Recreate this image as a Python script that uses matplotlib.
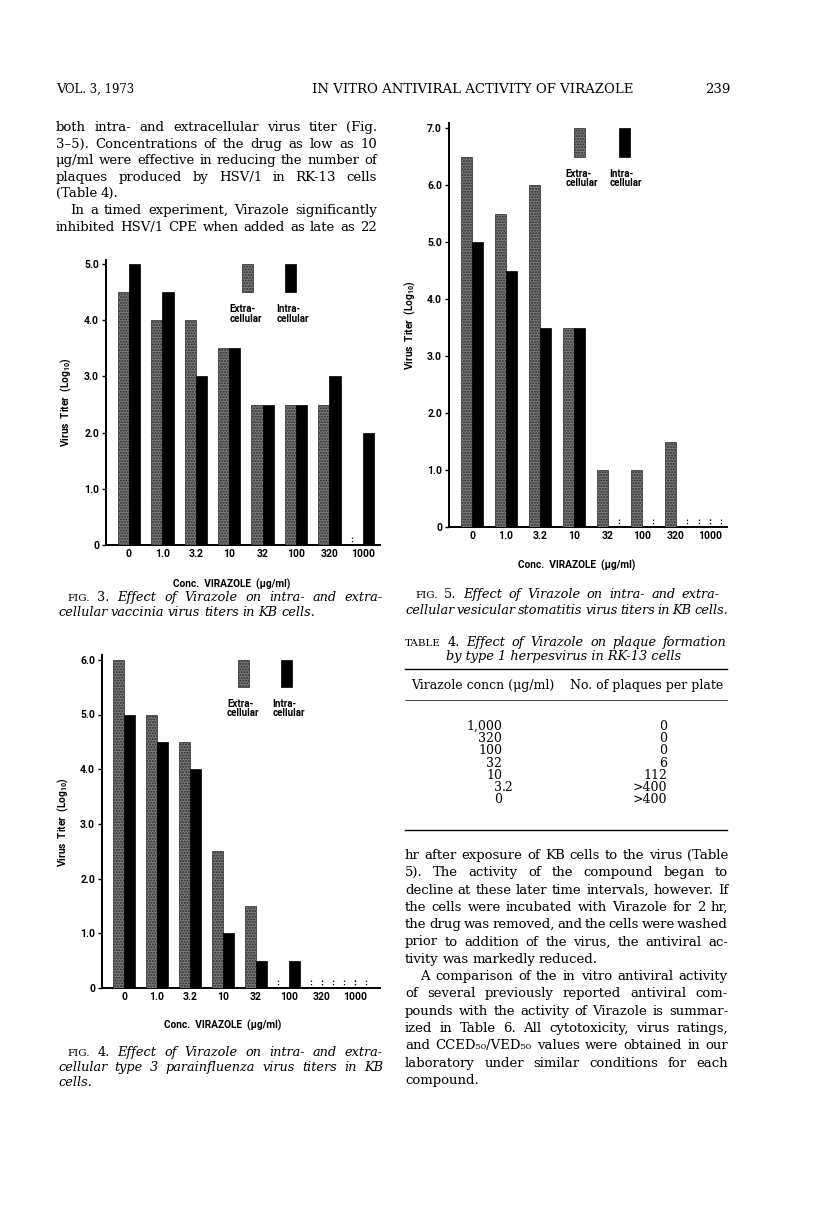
import matplotlib
matplotlib.use("Agg")
import numpy as np
import matplotlib.pyplot as plt
from matplotlib.patches import Rectangle
from matplotlib.lines import Line2D

W, H = 816, 1226

# concentrations of Virazole (ug/ml) on the x axis of every figure
conc_labels = ["0", "1.0", "3.2", "10", "32", "100", "320", "1000"]

# Fig. 3 vaccinia virus titers (log10)
vacc_extra = [4.5, 4.0, 4.0, 3.5, 2.5, 2.5, 2.5, 0.0]
vacc_intra = [5.0, 4.5, 3.0, 3.5, 2.5, 2.5, 3.0, 2.0]

# Fig. 4 type 3 parainfluenza virus titers (log10)
para_extra = [6.0, 5.0, 4.5, 2.5, 1.5, 0.0, 0.0, 0.0]
para_intra = [5.0, 4.5, 4.0, 1.0, 0.5, 0.5, 0.0, 0.0]

# Fig. 5 vesicular stomatitis virus titers (log10)
vsv_extra = [6.5, 5.5, 6.0, 3.5, 1.0, 1.0, 1.5, 0.0]
vsv_intra = [5.0, 4.5, 3.5, 3.5, 0.0, 0.0, 0.0, 0.0]

# Table 4
table_conc = ["1,000", "320", "100", "32", "10", "3.2", "0"]
table_plaques = ["0", "0", "0", "6", "112", ">400", ">400"]

left_text = [
    "both intra- and extracellular virus titer (Fig.",
    "3\u20135). Concentrations of the drug as low as 10",
    "\u03bcg/ml were effective in reducing the number of",
    "plaques produced by HSV/1 in RK-13 cells",
    "(Table  4).",
    "In a timed experiment, Virazole significantly",
    "inhibited HSV/1 CPE when added as late as 22",
]
right_text = [
    "hr after exposure of KB cells to the virus (Table",
    "5). The activity of the compound began to",
    "decline at these later time intervals, however. If",
    "the cells were incubated with Virazole for 2 hr,",
    "the drug was removed, and the cells were washed",
    "prior to addition of the virus, the antiviral ac-",
    "tivity was markedly reduced.",
    "A comparison of the in vitro antiviral activity",
    "of several previously reported antiviral com-",
    "pounds with the activity of Virazole is summar-",
    "ized in Table 6. All cytotoxicity, virus ratings,",
    "and CCED\u2085\u2080/VED\u2085\u2080 values were obtained in our",
    "laboratory under similar conditions for each",
    "compound.",
]

SERIF = ["DejaVu Serif", "DejaVu Sans"]
SANS = ["Roboto", "DejaVu Sans"]

plt.rcParams["mathtext.fontset"] = "custom"
plt.rcParams["mathtext.rm"] = "Roboto:bold"
plt.rcParams["mathtext.default"] = "rm"

fig = plt.figure(figsize=(W / 100, H / 100), dpi=100)
renderer = fig.canvas.get_renderer()


def make_words(line, y, size, italic_from, small):
    arts = []
    for i, wd in enumerate(line.split()):
        style = "italic" if italic_from is not None and i >= italic_from else "normal"
        fs = size * 0.8 if i in small else size
        arts.append(fig.text(0, 1 - y / H, wd, fontsize=fs, family=SERIF,
                             style=style, va="baseline", ha="left"))
    return arts


def fit_size(items, size, min_gap=2.2):
    # largest common size for which every justified line keeps word gaps
    while size > 6:
        ok = True
        for line, x0, x1, ital, small in items:
            if x1 is None:
                continue
            arts = make_words(line, 0, size, ital, small)
            tot = sum(a.get_window_extent(renderer).width for a in arts)
            for a in arts:
                a.remove()
            if (x1 - x0 - tot) / (len(arts) - 1) < min_gap:
                ok = False
                break
        if ok:
            return size
        size -= 0.1
    return size


def put_line(line, x0, y, x1, size, italic_from=None, small=()):
    arts = make_words(line, y, size, italic_from, small)
    widths = [a.get_window_extent(renderer).width for a in arts]
    gap = size * 100 / 72 * 0.28
    if x1 is not None and len(arts) > 1:
        gap = (x1 - x0 - sum(widths)) / (len(arts) - 1)
    x = x0
    for a, w in zip(arts, widths):
        a.set_x(x / W)
        x += w + gap


def chart(left, right, y0, ppu, ymax, ylim_top, x_first, spacing,
          extra, intra, leg_y, leg_box, leg_txt, ylab_x, xlab):
    x = np.arange(len(conc_labels))
    ax = fig.add_axes([left / W, (H - y0) / H, (right - left) / W,
                       ylim_top * ppu / H])
    ax.set_xlim((left - x_first) / spacing, (right - x_first) / spacing)
    ax.set_ylim(0, ylim_top)
    w = 0.335
    gray = "#7a7a7a"
    ax.bar(x - w / 2, extra, w, color=gray, hatch="......",
           edgecolor="#2a2a2a", linewidth=0.5, zorder=3)
    ax.bar(x + w / 2, intra, w, color="black", edgecolor="black",
           linewidth=0.5, zorder=3)
    # dotted stubs where a bar is zero
    for i in x:
        for j, vals in enumerate((extra, intra)):
            if vals[i] > 0:
                continue
            lo = i - w if j == 0 else i
            edges = [lo, lo + w]
            other = intra[i] if j == 0 else extra[i]
            if other > 0:
                edges = [lo] if j == 0 else [lo + w]
            ax.vlines(edges, 0, 0.15, colors="black", linestyles=":",
                      linewidth=0.9, zorder=1)
    # legend keys
    for bx, col, htch, label, tx in zip(leg_box, [gray, "black"],
                                        ["......", None],
                                        ["Extra-\ncellular", "Intra-\ncellular"],
                                        leg_txt):
        ax.add_patch(Rectangle((bx, leg_y - 0.5), w, 0.5, facecolor=col,
                               hatch=htch, edgecolor="#2a2a2a" if htch else "black",
                               linewidth=0.5, zorder=3))
        ax.text(tx, leg_y - 0.72, label, ha="left", va="top", fontsize=7.0,
                family=SANS, weight="bold", linespacing=0.9)
    ax.set_xticks(x)
    ax.set_xticklabels(conc_labels)
    ax.set_yticks(np.arange(0, ymax + 1))
    ax.set_yticklabels(["0"] + ["%.1f" % v for v in np.arange(1, ymax + 1)])
    ax.tick_params(axis="x", length=0, pad=3.0)
    ax.tick_params(axis="y", length=3, width=1.0, direction="out", pad=2.0)
    for lab in ax.get_xticklabels() + ax.get_yticklabels():
        lab.set_fontfamily(SANS)
        lab.set_fontweight("bold")
        lab.set_fontsize(7.5)
    for s in ("top", "right"):
        ax.spines[s].set_visible(False)
    ax.spines["left"].set_linewidth(1.4)
    ax.spines["bottom"].set_linewidth(1.4)
    ax.set_facecolor("none")
    ycen = y0 - ylim_top * ppu / 2
    fig.text(ylab_x / W, 1 - ycen / H,
             "Virus  Titer  (Log$_{10}$)", rotation=90, ha="center",
             va="center", fontsize=7.3, family=SANS, weight="bold")
    fig.text(xlab[0] / W, 1 - xlab[1] / H, "Conc.  VIRAZOLE  (\u03bcg/ml)",
             ha="center", va="center", fontsize=7.3, family=SANS,
             weight="bold")
    return ax


# Fig. 3
chart(106, 380, 545, 56.2, 5, 5.07, 129, 33.4, vacc_extra, vacc_intra,
      5.0, [3.38, 4.67], [3.02, 4.42], 66, (232, 584))
# Fig. 5
chart(449, 727, 527, 57.0, 7, 7.08, 472, 34.0, vsv_extra, vsv_intra,
      7.0, [3.0, 4.32], [2.75, 4.05], 410, (577, 565))
# Fig. 4
chart(102, 380, 988, 54.7, 6, 6.08, 124, 33.0, para_extra, para_intra,
      6.0, [3.45, 4.76], [3.12, 4.5], 63, (223, 1025))

# body text, one common size for both columns
left_items = [(ln, 70 if i == 5 else 56, None if i == 4 else 377, None, ())
              for i, ln in enumerate(left_text)]
right_items = [(ln, 420 if i == 7 else 405, None if i in (6, 13) else 728,
                None, ()) for i, ln in enumerate(right_text)]
BODY = fit_size(left_items + right_items, 10.6)

# running head
fig.text(56 / W, 1 - 93 / H, "V", fontsize=BODY, family=SERIF, va="baseline")
fig.text(56 / W + 0.0115, 1 - 93 / H, "OL. 3, 1973", fontsize=BODY * 0.88,
         family=SERIF, va="baseline")
fig.text(312 / W, 1 - 93 / H, "IN VITRO ANTIVIRAL ACTIVITY OF VIRAZOLE",
         fontsize=BODY, family=SERIF, va="baseline")
fig.text(730 / W, 1 - 93 / H, "239", fontsize=BODY, family=SERIF,
         va="baseline", ha="right")

for i, (ln, x0, x1, it, sm) in enumerate(left_items):
    put_line(ln, x0, 131 + 16.6 * i, x1, BODY)
for i, (ln, x0, x1, it, sm) in enumerate(right_items):
    put_line(ln, x0, 859 + 17.3 * i, x1, BODY)

# figure legends and table title, one common size
cap_items = [
    ("FIG. 3. Effect of Virazole on intra- and extra-", 67, 383, 2, (0,), 601),
    ("cellular vaccinia virus titers in KB cells.", 58, None, 0, (), 616),
    ("FIG. 5. Effect of Virazole on intra- and extra-", 415, 720, 2, (0,), 598),
    ("cellular vesicular stomatitis virus titers in KB cells.", 405, 728, 0, (), 614),
    ("FIG. 4. Effect of Virazole on intra- and extra-", 67, 383, 2, (0,), 1056),
    ("cellular type 3 parainfluenza virus titers in KB", 58, 383, 0, (), 1071),
    ("cells.", 58, None, 0, (), 1086),
    ("TABLE 4. Effect of Virazole on plaque formation", 405, 727, 2, (0,), 646),
]
CAP = fit_size([c[:5] for c in cap_items], 10.2)
for ln, x0, x1, it, sm, y in cap_items:
    put_line(ln, x0, y, x1, CAP, italic_from=it, small=sm)
fig.text(564 / W, 1 - 660 / H, "by type 1 herpesvirus in RK-13 cells",
         fontsize=CAP, family=SERIF, style="italic", ha="center",
         va="baseline")

# Table 4 body
for yy, lw in ((669, 1.0), (700, 0.5), (830, 1.0)):
    fig.add_artist(Line2D([405 / W, 727 / W], [1 - yy / H, 1 - yy / H],
                          color="black", linewidth=lw))
TAB = 9.0
fig.text(483 / W, 1 - 689 / H, "Virazole concn (\u03bcg/ml)", fontsize=TAB,
         family=SERIF, ha="center", va="baseline")
fig.text(647 / W, 1 - 689 / H, "No. of plaques per plate", fontsize=TAB,
         family=SERIF, ha="center", va="baseline")
for i, (c, n) in enumerate(zip(table_conc, table_plaques)):
    y = 1 - (730 + 12.2 * i) / H
    whole, _, frac = c.partition(".")
    fig.text(502 / W, y, whole, fontsize=TAB, family=SERIF, ha="right",
             va="baseline")
    if frac:
        fig.text(502 / W, y, "." + frac, fontsize=TAB, family=SERIF,
                 ha="left", va="baseline")
    fig.text(667 / W, y, n, fontsize=TAB, family=SERIF, ha="right",
             va="baseline")

fig.savefig("out.png", dpi=100)
